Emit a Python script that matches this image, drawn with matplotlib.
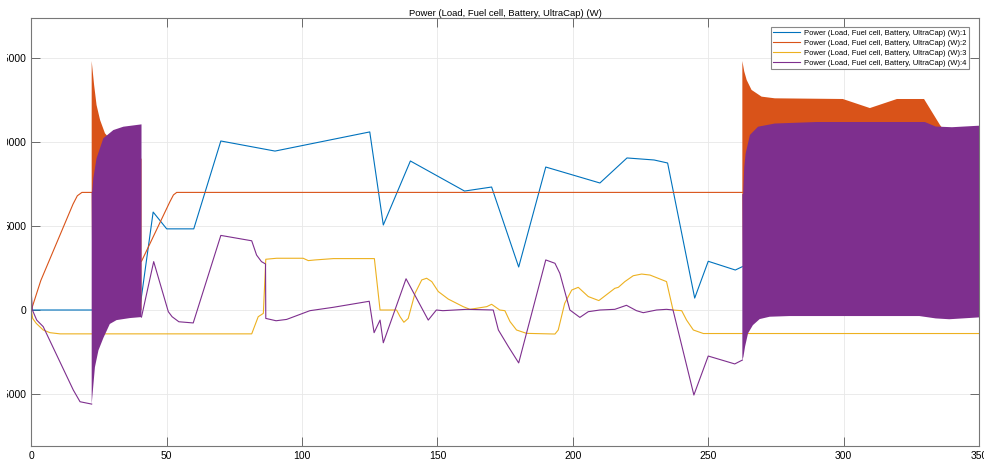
import numpy as np
import matplotlib.pyplot as plt
from matplotlib.transforms import Bbox

plt.rcParams["font.family"] = ["Liberation Sans", "DejaVu Sans"]

# Series 1: load power (W) at its breakpoints (s)
load_t = [0, 40, 45, 50, 60, 70, 90, 125, 130, 140, 160, 170, 180, 190,
          210, 220, 230, 235, 245, 250, 260, 262.6]
load_w = [0, 0, 5830, 4830, 4830, 10060, 9460, 10600, 5060, 8870, 7080,
          7320, 2560, 8510, 7560, 9050, 8930, 8750, 710, 2900, 2380, 2580]

# Series 2: fuel cell power, plain line parts
fc_t1 = [0, 3.5, 15.4, 17, 18.7, 22.3]
fc_w1 = [0, 1750, 6300, 6800, 7000, 7000]
fc_t2 = [40.7, 42.7, 51.2, 52.5, 53.7, 262.6]
fc_w2 = [2900, 3570, 6450, 6850, 7000, 7000]

# fuel cell oscillation envelopes (first and second burst)
fc_env1_t = [22.3, 23.2, 24.1, 25.4, 27.2, 30, 40.7]
fc_env1_hi = [14820, 13390, 12200, 11310, 10520, 10000, 9000]
fc_env1_lo_t = [22.3, 22.6, 40.7]
fc_env1_lo = [7000, 0, 0]
fc_env2_t = [262.6, 263.3, 264.2, 266, 269.7, 274.6, 299.7, 309.7, 319.7,
             329.7, 335.6, 338, 350]
fc_env2_hi = [14820, 14200, 13690, 13100, 12700, 12600, 12560, 12020,
              12560, 12560, 11010, 10500, 10500]
fc_env2_lo_t = [262.6, 263.0, 350]
fc_env2_lo = [7000, 0, 0]

# Series 3: battery power
bat_t = [0, 0.5, 1.8, 4.4, 6.9, 10.6, 81.4, 83.8, 85.7, 86.6, 90.6, 100.4,
         102.3, 104.8, 111.6, 126.7, 128.8, 134.9, 136.2, 137.6, 139.2,
         141.7, 144.2, 146, 147.9, 150.3, 154, 159.5, 162, 168.2, 170, 173,
         174.9, 176.8, 179.2, 182.9, 193.4, 194.6, 197, 199.6, 202, 205.7,
         209.6, 215.5, 216.8, 219.2, 222.3, 225.4, 228.5, 234.6, 237, 240.2,
         242, 244.5, 248.2, 350]
bat_w = [0, -500, -790, -1190, -1350, -1420, -1420, -400, -200, 3020, 3080,
         3080, 2940, 2980, 3060, 3060, 0, 0, -400, -730, -500, 990, 1790,
         1890, 1690, 1100, 650, 200, 40, 200, 340, 0, -40, -690, -1190,
         -1390, -1430, -1190, 400, 1190, 1350, 800, 560, 1290, 1350, 1690,
         2040, 2140, 2080, 1690, 0, -40, -600, -1190, -1400, -1400]

# Series 4: ultracap power, plain line parts
uc_t1 = [0, 0.4, 2, 4.4, 15.5, 18, 22.3]
uc_w1 = [1000, 0, -600, -990, -4760, -5460, -5600]
uc_t2 = [40.7, 45.2, 50.6, 52, 54.5, 59.8, 70, 81.4, 83.2, 85, 86.5, 86.6,
         90.4, 94.3, 102.9, 111.5, 124.8, 126.6, 128.8, 130, 138.4, 146.6,
         149.6, 152, 160.8, 170.6, 172.5, 176.2, 180, 190, 193.4, 195.2,
         198.9, 202.6, 205.7, 210, 215.5, 219.8, 223.5, 226, 230.9, 234.6,
         237, 244.7, 250, 259.8, 262.6]
uc_w2 = [-420, 2880, -100, -400, -700, -770, 4440, 4120, 3270, 2880, 2740,
         -500, -640, -560, -40, 160, 520, -1350, -600, -1950, 1860, -600, 0,
         -40, 40, 0, -1190, -2180, -3150, 2980, 2780, 2180, 0, -440, -100, 0,
         40, 280, -40, -160, 0, 40, 0, -5060, -2740, -3210, -2980]

# ultracap oscillation envelopes
uc_env1_hi_t = [22.3, 22.5, 22.9, 24.1, 26.6, 30.3, 34, 40.7]
uc_env1_hi = [7000, 7040, 7840, 9030, 10220, 10710, 10910, 11050]
uc_env1_lo_t = [22.3, 23.5, 24.8, 26.6, 29, 31.5, 36.4, 40.7]
uc_env1_lo = [-5600, -3400, -2400, -1670, -830, -600, -480, -420]
uc_env2_hi_t = [262.6, 262.9, 263.3, 263.8, 265.4, 268.4, 274.6, 290, 330,
                334, 340, 350]
uc_env2_hi = [6900, 6900, 8500, 9300, 10420, 10910, 11100, 11190, 11190,
              10920, 10880, 10970]
uc_env2_lo_t = [262.6, 263, 263.6, 264.7, 266.5, 269, 272.7, 280, 328, 334,
                339, 350]
uc_env2_lo = [-2980, -2780, -2180, -1390, -900, -540, -400, -360, -360,
              -500, -550, -440]

labels = ["Power (Load, Fuel cell, Battery, UltraCap) (W):%d" % i
          for i in range(1, 5)]
colors = ["#0072BD", "#D95319", "#EDB120", "#7E2F8E"]


def fill_band(ax, top_t, top_v, bot_t, bot_v, color, z):
    xs = np.concatenate([top_t, bot_t[::-1]])
    ys = np.concatenate([top_v, bot_v[::-1]])
    ax.fill(xs, ys, color=color, lw=0, zorder=z)


W, H = 984, 463
fig = plt.figure(figsize=(W / 100, H / 100), dpi=100)
x0, x1, y0, y1 = 31.3, 979, 18.3, 445.7
ax = fig.add_axes([x0 / W, (H - y1) / H, (x1 - x0) / W, (y1 - y0) / H])

lw = 0.8
ax.plot(load_t, load_w, color=colors[0], lw=lw, label=labels[0], zorder=2.1)

ax.plot(fc_t1, fc_w1, color=colors[1], lw=lw, label=labels[1], zorder=2.2)
ax.plot(fc_t2, fc_w2, color=colors[1], lw=lw, zorder=2.2)
fill_band(ax, fc_env1_t, fc_env1_hi, np.array(fc_env1_lo_t), np.array(fc_env1_lo),
          colors[1], 2.2)
fill_band(ax, fc_env2_t, fc_env2_hi, np.array(fc_env2_lo_t), np.array(fc_env2_lo),
          colors[1], 2.2)

ax.plot(bat_t, bat_w, color=colors[2], lw=lw, label=labels[2], zorder=2.3)

ax.plot(uc_t1, uc_w1, color=colors[3], lw=lw, label=labels[3], zorder=2.4)
ax.plot(uc_t2, uc_w2, color=colors[3], lw=lw, zorder=2.4)
fill_band(ax, uc_env1_hi_t, uc_env1_hi, np.array(uc_env1_lo_t), np.array(uc_env1_lo),
          colors[3], 2.4)
fill_band(ax, uc_env2_hi_t, uc_env2_hi, np.array(uc_env2_lo_t), np.array(uc_env2_lo),
          colors[3], 2.4)

ax.set_xlim(0, 350)
ax.set_ylim(-8077, 17363)
ax.set_xticks(np.arange(0, 351, 50))
ax.set_yticks(np.arange(-5000, 15001, 5000))
ax.grid(True, color="#e8e8e8", lw=0.6)
ax.set_axisbelow(True)
ax.tick_params(direction="in", length=6.5, width=0.6, color="#555555",
               labelsize=7.5, pad=3.5, top=True, right=True)
for s in ax.spines.values():
    s.set_color("#777777")
    s.set_linewidth(0.8)

ax.set_title("Power (Load, Fuel cell, Battery, UltraCap) (W)", fontsize=6.8,
             pad=1.5)

leg = ax.legend(loc="upper right", bbox_to_anchor=(0.9894, 0.9796),
                borderaxespad=0, fontsize=5.5, handlelength=3.5,
                handletextpad=0.5, labelspacing=0.33, fancybox=False,
                framealpha=1, borderpad=0.35)
leg.get_frame().set_edgecolor("#888888")
leg.get_frame().set_linewidth(0.8)

# the source image is cut a few pixels into the y tick labels
clip = Bbox.from_extents(7, 0, W, H)
for t in ax.get_yticklabels():
    t.set_clip_box(clip)
    t.set_clip_on(True)

fig.savefig("out.png", dpi=100)
